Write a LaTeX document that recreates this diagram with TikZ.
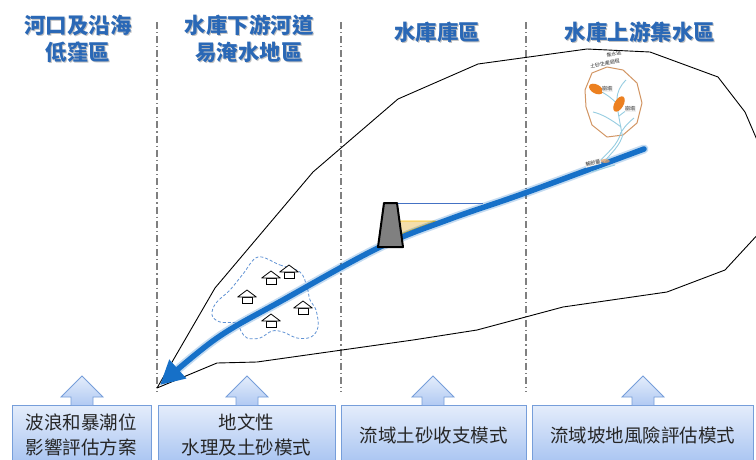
\documentclass[tikz,border=0pt]{standalone}
\usepackage{fontspec}
\setmainfont{Noto Sans CJK TC}
\usetikzlibrary{arrows.meta}

\definecolor{riverblue}{RGB}{22,112,200}
\definecolor{hdrblue}{RGB}{42,104,182}
\definecolor{boxtop}{RGB}{228,237,251}
\definecolor{boxbot}{RGB}{160,190,240}
\definecolor{boxline}{RGB}{118,158,218}
\definecolor{sepgray}{RGB}{128,128,128}
\definecolor{floodblue}{RGB}{96,146,212}
\definecolor{stemblue}{RGB}{150,205,225}
\definecolor{leaforange}{RGB}{236,128,32}
\definecolor{ringbrown}{RGB}{210,150,100}
\definecolor{waterline}{RGB}{68,114,196}
\definecolor{sedfill}{RGB}{242,214,150}
\definecolor{sedline}{RGB}{255,192,0}

\tikzset{
  separator/.style={sepgray, line width=1.1pt, dash pattern=on 7pt off 3pt on 1.2pt off 3pt},
  header/.style={text=hdrblue, align=center, font=\bfseries\fontsize{21.5}{27}\selectfont, inner sep=0pt},
  headshadow/.style={text=black!25, align=center, font=\bfseries\fontsize{21.5}{27}\selectfont, inner sep=0pt},
  panel/.style={draw=boxline, line width=0.8pt, top color=boxtop, bottom color=boxbot},
  paneltext/.style={align=center, font=\fontsize{18.5}{25}\selectfont, text=black!85, inner sep=0pt},
  upshape/.style={draw=boxline, line width=0.8pt, top color=boxtop, bottom color=boxbot!75!boxtop},
  outline/.style={black, line width=0.9pt, line join=round},
  flood/.style={floodblue, line width=0.8pt, dash pattern=on 3pt off 2pt},
  stem/.style={stemblue, line width=0.9pt},
  tiny/.style={font=\fontsize{5}{6}\selectfont, text=black!80, inner sep=0.5pt, fill=black!6},
  house/.pic={
    \draw[black, line width=0.8pt, fill=white] (-5,0) rectangle (5,6.5);
    \draw[black, line width=0.8pt, fill=white, line join=round] (-9.3,0) -- (0,-7) -- (9.3,0) -- cycle;
  }
}

\begin{document}
\begin{tikzpicture}[x=1pt, y=-1pt]
\useasboundingbox (0,0) rectangle (756,459);
\fill[white] (0,0) rectangle (756,459);

% zone separators
\draw[separator] (157,22) -- (157,392);
\draw[separator] (341,22) -- (341,392);
\draw[separator] (526,22) -- (526,392);

% zone titles
\node[headshadow] at (79.2,39.7) {河口及沿海\\低窪區};
\node[header] (h1) at (78,38.5) {河口及沿海\\低窪區};
\node[headshadow] at (250.2,39.7) {水庫下游河道\\易淹水地區};
\node[header] (h2) at (249,38.5) {水庫下游河道\\易淹水地區};
\node[headshadow] at (438.2,33.2) {水庫庫區};
\node[header] (h3) at (437,32) {水庫庫區};
\node[headshadow] at (641.2,33.2) {水庫上游集水區};
\node[header] (h4) at (640,32) {水庫上游集水區};

% watershed boundary
\draw[outline] (157,388) -- (215,288) -- (313,172) -- (398,99) -- (478,64)
  -- (587,49) -- (650,52) -- (718,77) -- (745,112) -- (785,205)
  -- (725,270) -- (667,292) -- (563,307) -- (477,330) -- (413,340)
  -- (257,362) -- (217,363) -- cycle;

% flood-prone area with houses
\draw[flood] plot[smooth cycle, tension=0.6] coordinates {
  (258,257) (280,265) (300,272) (307,287) (310,300) (316,310) (318,327)
  (311,337) (297,338) (283,332) (272,331) (260,338) (247,338) (241,331)
  (236,323) (220,322) (212,315) (216,303) (230,290) (243,274)};
\pic at (289,272) {house};
\pic at (271,278) {house};
\pic at (247,297) {house};
\pic at (303,308) {house};
\pic at (271,321) {house};

% reservoir: water level, sediment wedge
\draw[waterline, line width=0.9pt] (392,203.5) -- (483,203.5);
\draw[sedline, line width=0.8pt, fill=sedfill, fill opacity=0.8, line join=round] (399,221) -- (436,221) -- (401,234) -- cycle;

% river with flow arrow
\draw[riverblue, opacity=0.25, line width=9pt, line cap=round, shorten >=14pt]
  plot[smooth, tension=0.6] coordinates {(644,149) (525,193) (450,219) (380,247) (283,300) (217,338) (160,385)};
\draw[riverblue, line width=5.5pt, line cap=round, -{Triangle[length=24pt, width=24pt]}]
  plot[smooth, tension=0.6] coordinates {(644,149) (525,193) (450,219) (380,247) (283,300) (217,338) (160,385)};

% dam
\draw[black, line width=2pt, fill=black!50, line join=round] (384,203) -- (397,203) -- (403,247) -- (378,247) -- cycle;

% hillslope sediment production sketch
\draw[ringbrown, line width=1pt, line join=round] (585,90) -- (592,73) -- (607,67) -- (623,70) -- (637,83)
  -- (642,103) -- (637,123) -- (623,135) -- (607,137) -- (592,125) -- (586,107) -- cycle;
\draw[stem] (598,163) .. controls (608,152) and (618,145) .. (621,132);
\draw[stem] (604,162) .. controls (612,152) and (620,146) .. (623,134);
\draw[stem] (622,134) .. controls (620,122) and (617,110) .. (617,100) .. controls (617,92) and (620,86) .. (626,80);
\draw[stem] (621,127) .. controls (612,120) and (602,114) .. (593,112);
\draw[stem] (622,131) .. controls (625,126) and (629,122) .. (634,118);
\draw[stem] (617,104) .. controls (612,98) and (607,95) .. (602,92);
\draw[stem] (619,116) .. controls (624,112) and (627,110) .. (630,108);
\draw[stem] (591,172) -- (615,165);
\fill[leaforange, rotate around={-28:(596,89)}] (596,89) ellipse (7.5 and 4.5);
\fill[leaforange, rotate around={60:(619,104)}] (619,104) ellipse (8.5 and 4.5);
\fill[leaforange!70, opacity=0.7] (605,161) ellipse (5 and 2);
\node[tiny, fill=none, rotate=12] (pt1) at (614,54.5) {集水區};
\node[tiny, fill=none, rotate=12] (pt2) at (605,63.5) {土砂生產過程};
\node[tiny] (pa) at (607,89) {崩塌};
\node[tiny] (pb) at (630,109) {崩塌};
\node[tiny, rotate=15] (pc) at (593,163) {輸砂量};

% model boxes
\path[panel] (12,405) rectangle (151,472);
\path[panel] (158,405) rectangle (335,472);
\path[panel] (341,405) rectangle (526,472);
\path[panel] (532,405) rectangle (753,472);
\node[paneltext] (m1) at (81.5,435) {波浪和暴潮位\\影響評估方案};
\node[paneltext] (m2) at (246.5,435) {地文性\\水理及土砂模式};
\node[paneltext] (m3) at (433.5,435) {流域土砂收支模式};
\node[paneltext] (m4) at (642.5,435) {流域坡地風險評估模式};

% up arrows from the models
\foreach \ax in {82,247,433,643}{
  \path[upshape] (\ax-11,405) -- (\ax-11,397) -- (\ax-21,397) -- (\ax,376)
    -- (\ax+21,397) -- (\ax+11,397) -- (\ax+11,405);
}
\end{tikzpicture}
\end{document}
